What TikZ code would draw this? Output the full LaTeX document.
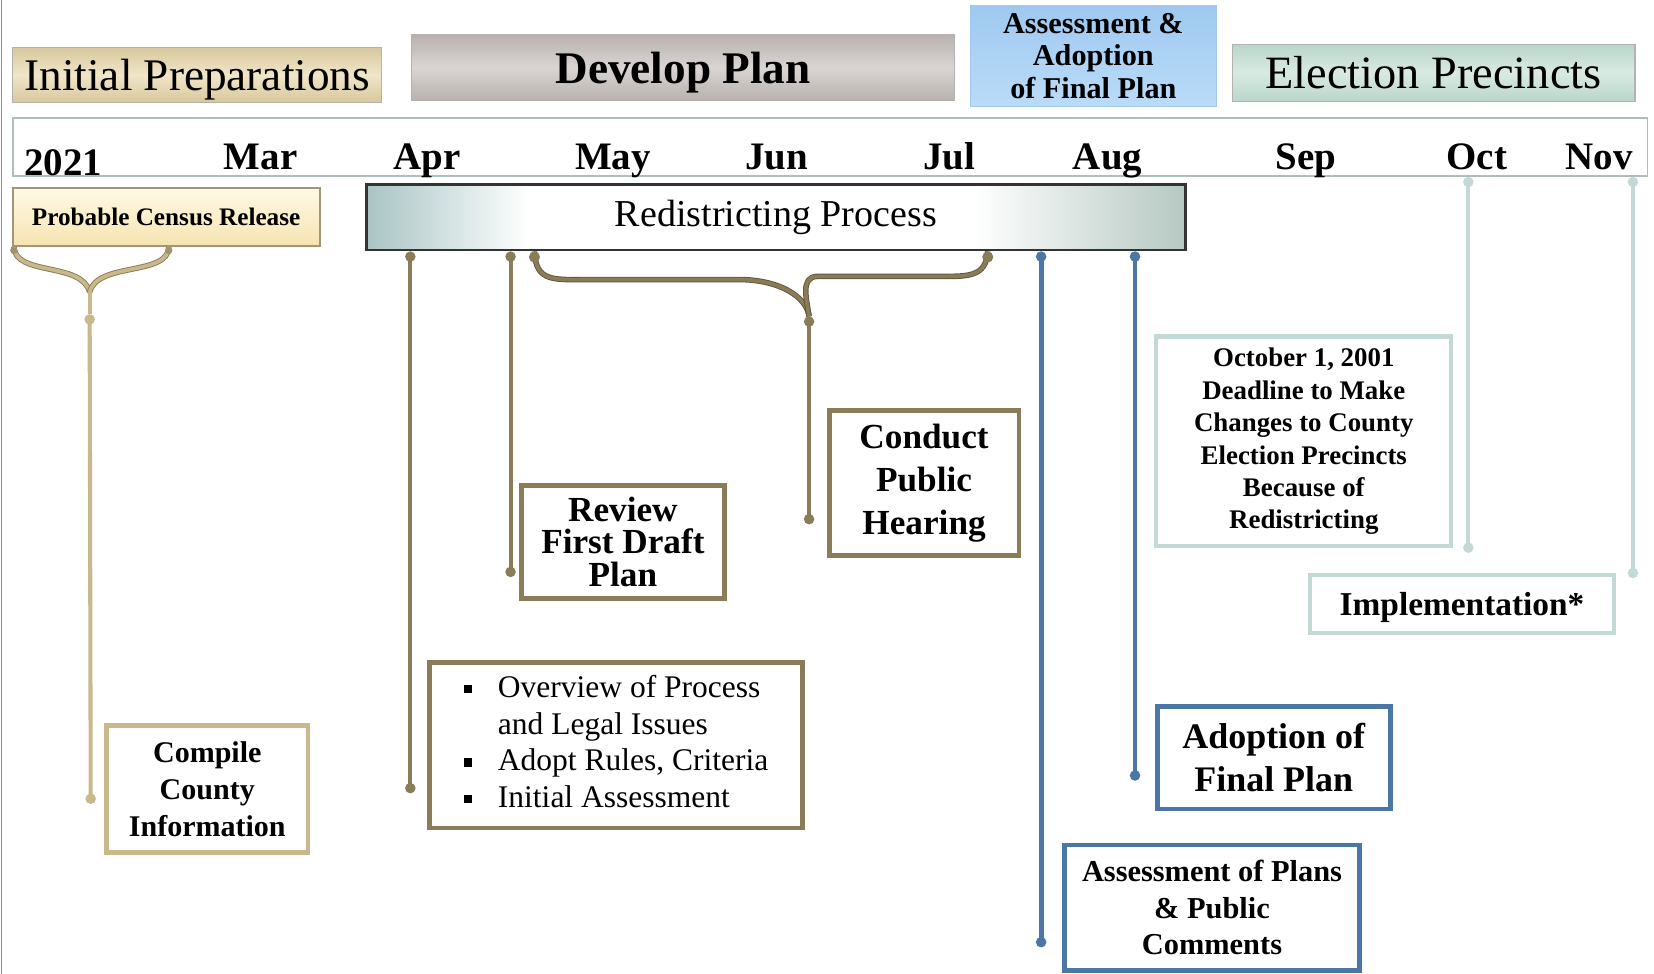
\documentclass[tikz,border=0pt]{standalone}
\usepackage{fontspec}
\setmainfont{Liberation Serif}
\usetikzlibrary{arrows.meta}

\definecolor{tanline}{HTML}{C9B88C}
\definecolor{oliveline}{HTML}{8A7C58}
\definecolor{blueline}{HTML}{4B77A6}
\definecolor{paleline}{HTML}{C3D9D6}
\definecolor{ipA}{HTML}{D8C79C}
\definecolor{ipB}{HTML}{F0E6C8}
\definecolor{dpA}{HTML}{B9B2AE}
\definecolor{dpB}{HTML}{DAD5D3}
\definecolor{afA}{HTML}{9FC9F0}
\definecolor{afB}{HTML}{BADBF8}
\definecolor{epA}{HTML}{B9D6C9}
\definecolor{epB}{HTML}{D9EAE2}
\definecolor{pcA}{HTML}{F6E4B0}
\definecolor{pcB}{HTML}{FFF9E6}
\definecolor{rpL}{HTML}{A9C4C4}
\definecolor{rpR}{HTML}{B6C8C2}

% grey-teal at the ends, white in the middle
\pgfdeclarehorizontalshading{redistshade}{100bp}{color(0bp)=(rpL); color(25bp)=(rpL);
  color(35bp)=(white); color(62bp)=(white); color(75bp)=(rpR); color(100bp)=(rpR)}

\newcommand\sqb{\raisebox{0.3ex}{\rule{4.5pt}{4.5pt}}}

\tikzset{
  phase/.style={draw=black!30, line width=0.6pt, inner sep=0pt, align=center},
  task/.style={fill=white, line width=2.6pt, inner sep=0pt, align=center},
  month/.style={anchor=base, font=\fontsize{21}{24}\selectfont\bfseries},
  link/.style={line width=2.2pt, {Circle[length=5.5pt]}-{Circle[length=5.5pt]}},
  brk/.style={line width=0.5pt, double distance=2pt},
}

\begin{document}
\begin{tikzpicture}[x=0.02cm,y=-0.02cm]
\useasboundingbox (0,0) rectangle (1568,923);
\draw[black!45, line width=0.8pt] (1.5,0) -- (1.5,923);%

% phases along the top
\node[phase, minimum width=7cm, minimum height=1.04cm, text depth=0pt, top color=ipA, bottom color=ipA, middle color=ipB,
  font=\fontsize{24.4}{28}\selectfont] (initprep) at (187,71) {Initial Preparations};%
\node[phase, minimum width=10.3cm, minimum height=1.24cm, text depth=0pt, top color=dpA, bottom color=dpA, middle color=dpB,
  font=\fontsize{24.4}{28}\selectfont\bfseries] (devplan) at (647.5,64) {Develop Plan};%
\node[phase, draw=afA, minimum width=4.66cm, minimum height=1.92cm, top color=afA, bottom color=afB,
  font=\fontsize{16.3}{17.6}\selectfont\bfseries] (finalplan) at (1036.5,53) {Assessment \&\\Adoption\\of Final Plan};%
\node[phase, minimum width=7.64cm, minimum height=1.08cm, text depth=0pt, top color=epA, bottom color=epA, middle color=epB,
  font=\fontsize{25}{28}\selectfont] (precincts) at (1359,69) {Election Precincts};%

% month band
\node[draw=paleline!70!gray, line width=0.8pt, fill=white, minimum width=31cm, minimum height=1.1cm] (months) at (787,139.5) {};%
\node[month] at (60,166) {2021};%
\foreach \m/\x in {Mar/247,Apr/405,May/581,Jun/736,Jul/900,Aug/1050,Sep/1238,Oct/1400,Nov/1516}
  \node[month] at (\x,161) {\m};%

% bars under the months
\node[phase, draw=oliveline!80, line width=1pt, minimum width=5.82cm, minimum height=1.1cm,
  top color=pcB, bottom color=pcA, font=\fontsize{13.6}{16}\selectfont\bfseries] (census) at (157.5,205.5) {Probable Census Release};%
\node[draw=black!80, line width=1.6pt, shading=redistshade, minimum width=15.54cm, minimum height=1.24cm,
  font=\fontsize{20.5}{24}\selectfont] (redist) at (735.5,206) {Redistricting Process};%

% task boxes
\node[task, draw=tanline, minimum width=3.82cm, minimum height=2.4cm,
  font=\fontsize{16.2}{19.8}\selectfont\bfseries] (compile) at (196.5,748) {Compile\\County\\Information};%
\node[task, draw=oliveline, minimum width=7.08cm, minimum height=3.14cm,
  font=\fontsize{17}{19.8}\selectfont] (overview) at (584,706.5)
  {\begin{tabular}{@{}l@{\hspace{14pt}}l@{}}\sqb & Overview of Process\\ & and Legal Issues\\
   \sqb & Adopt Rules, Criteria\\ \sqb & Initial Assessment\end{tabular}};%
\node[task, draw=oliveline, minimum width=3.86cm, minimum height=2.14cm,
  font=\fontsize{19}{17.6}\selectfont\bfseries] (review) at (590.5,513.5) {Review\\First Draft\\Plan};%
\node[task, draw=oliveline, minimum width=3.6cm, minimum height=2.76cm,
  font=\fontsize{19}{23.2}\selectfont\bfseries] (hearing) at (876,458) {Conduct\\Public\\Hearing};%
\node[task, draw=blueline, minimum width=5.6cm, minimum height=2.38cm,
  font=\fontsize{16.4}{19.8}\selectfont\bfseries] (plans) at (1149,860.5) {Assessment of Plans\\\& Public\\Comments};%
\node[task, draw=blueline, minimum width=4.42cm, minimum height=1.94cm,
  font=\fontsize{19.4}{23.2}\selectfont\bfseries] (adopt) at (1207.5,718.5) {Adoption of\\Final Plan};%
\node[task, draw=paleline, line width=2.2pt, minimum width=5.6cm, minimum height=3.98cm,
  font=\fontsize{14.5}{17.5}\selectfont\bfseries] (deadline) at (1236,418.5)
  {October 1, 2001\\Deadline to Make\\Changes to County\\Election Precincts\\Because of\\Redistricting};%
\node[task, draw=paleline, line width=2.2pt, minimum width=5.76cm, minimum height=1.1cm, text depth=0pt,
  font=\fontsize{18}{21}\selectfont\bfseries] (impl) at (1386,572.5) {Implementation*};%

% free ends of the lines
\coordinate (cjoin) at (85,277);%
\coordinate (cdot) at (85,298);%
\coordinate (cmpend) at (86,762);%
\coordinate (ovend) at (389,752);%
\coordinate (rvend) at (484,547);%
\coordinate (hjoin) at (767,300);%
\coordinate (hrend) at (767,497);%
\coordinate (plend) at (987,898);%
\coordinate (adend) at (1076,740);%
\coordinate (ocend) at (1392,524);%
\coordinate (imend) at (1548,548);%

% census bracket
\draw[brk, draw=oliveline, double=tanline] ([xshift=0.04cm]census.south west) .. controls (14,262) and (78,248) .. (cjoin);%
\draw[brk, draw=oliveline, double=tanline] ([xshift=0.05cm]census.south) .. controls (160,262) and (92,248) .. (cjoin);%
\fill[tanline!80!black] ([xshift=0.04cm,yshift=-2pt]census.south west) circle (2pt) ([xshift=0.05cm,yshift=-2pt]census.south) circle (2pt);%
\draw[tanline, line width=2.2pt] (cjoin) -- (cdot);%
\draw[link, tanline] (cdot) -- (cmpend);%

% redistricting bracket
\draw[brk, draw=oliveline!70!black, double=oliveline] ([xshift=3.22cm]redist.south west)
  .. controls (508,268) and (525,265) .. (560,265) -- (700,265) .. controls (740,265) and (765,282) .. (hjoin);%
\draw[brk, draw=oliveline!70!black, double=oliveline] ([xshift=-3.78cm]redist.south east)
  .. controls (935,262) and (918,262) .. (895,262) -- (775,262) .. controls (758,262) and (765,285) .. (hjoin);%
\fill[oliveline] ([xshift=3.22cm,yshift=-3pt]redist.south west) circle (3pt) ([xshift=-3.78cm,yshift=-3pt]redist.south east) circle (3pt);%
\draw[link, oliveline] (hjoin) -- (hrend);%

% lines from the bars down to the boxes
\draw[link, oliveline] (redist.south -| ovend) -- (ovend);%
\draw[link, oliveline] (redist.south -| rvend) -- (rvend);%
\draw[link, blueline, line width=2.6pt] (redist.south -| plend) -- (plend);%
\draw[link, blueline, line width=2.6pt] (redist.south -| adend) -- (adend);%
\draw[link, paleline] (months.south -| ocend) -- (ocend);%
\draw[link, paleline] (months.south -| imend) -- (imend);%
\end{tikzpicture}
\end{document}
